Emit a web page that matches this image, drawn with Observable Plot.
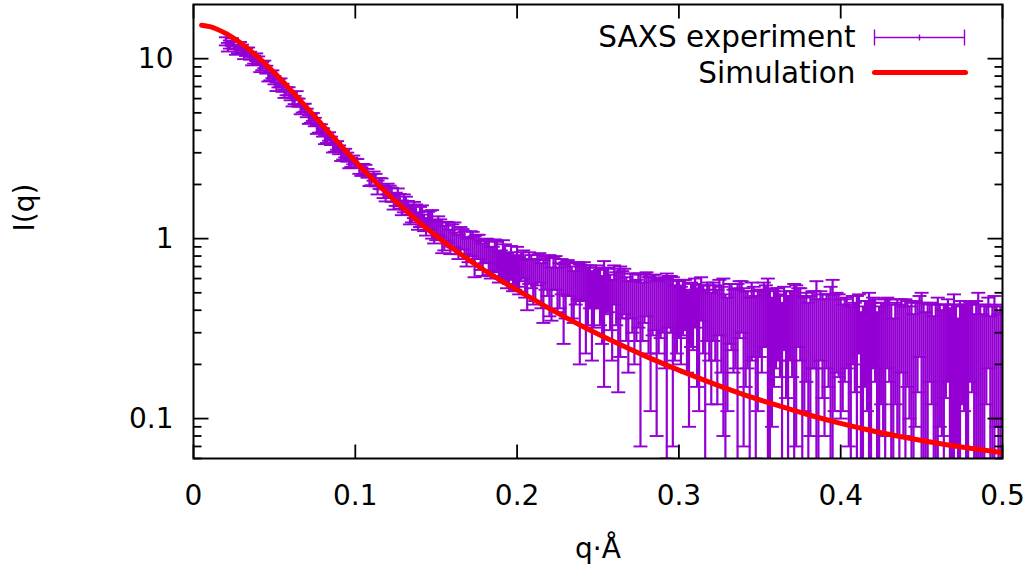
<!DOCTYPE html>
<html><head><meta charset="utf-8">
<script src="https://cdn.jsdelivr.net/npm/d3@7"></script>
<script src="https://cdn.jsdelivr.net/npm/@observablehq/plot@0.6"></script>
<style>
html,body{margin:0;padding:0;background:#fff;}
#chart{width:1032px;height:567px;}
</style>
</head><body><div id="chart"></div>
<script>
// ---- Experimental SAXS data, grid 1: q, intensity, error ----
const qExp = [
0.02,0.0225,0.025,0.0275,0.03,0.0325,0.035,0.0375,0.04,0.0425,
0.045,0.0475,0.05,0.0525,0.055,0.0575,0.06,0.0625,0.065,0.0675,
0.07,0.0725,0.075,0.0775,0.08,0.0825,0.085,0.0875,0.09,0.0925,
0.095,0.0975,0.1,
0.1025,0.105,0.1075,0.11,0.1125,0.115,0.1175,0.12,0.1225,0.125,
0.1275,0.13,0.1325,0.135,0.1375,0.14,0.1425,0.145,0.1475,0.15,
0.1525,0.155,0.1575,0.16,0.1625,0.165,0.1675,0.17,0.1725,0.175,
0.1775,0.18,0.1825,0.185,0.1875,0.19,0.1925,0.195,0.1975,0.2,
0.2025,0.205,0.2075,0.21,0.2125,0.215,0.2175,0.22,0.2225,0.225,
0.2275,0.23,0.2325,0.235,0.2375,0.24,0.2425,0.245,0.2475,0.25,
0.2525,0.255,0.2575,0.26,0.2625,0.265,0.2675,0.27,0.2725,0.275,
0.2775,0.28,0.2825,0.285,0.2875,0.29,0.2925,0.295,0.2975,0.3,
0.3025,0.305,0.3075,0.31,0.3125,0.315,0.3175,0.32,0.3225,0.325,
0.3275,0.33,0.3325,0.335,0.3375,0.34,0.3425,0.345,0.3475,0.35,
0.3525,0.355,0.3575,0.36,0.3625,0.365,0.3675,0.37,0.3725,0.375,
0.3775,0.38,0.3825,0.385,0.3875,0.39,0.3925,0.395,0.3975,0.4,
0.4025,0.405,0.4075,0.41,0.4125,0.415,0.4175,0.42,0.4225,0.425,
0.4275,0.43,0.4325,0.435,0.4375,0.44,0.4425,0.445,0.4475,0.45,
0.4525,0.455,0.4575,0.46,0.4625,0.465,0.4675,0.47,0.4725,0.475,
0.4775,0.48,0.4825,0.485,0.4875,0.49,0.4925,0.495,0.4975,0.5
];
const iExp = [
12.5,12.0,11.9,11.3,11.4,10.9,10.4,9.9,9.8,9.1,
8.7,8.0,7.6,7.3,6.9,6.6,6.2,5.9,5.7,5.3,
5.0,4.65,4.45,4.1,3.9,3.6,3.5,3.22,3.12,2.92,
2.84,2.66,2.62,
2.43,2.44,2.31,2.13,2.12,2.03,1.83,1.89,1.76,1.66,
1.62,1.58,1.49,1.38,1.41,1.33,1.23,1.26,1.22,1.12,
1.15,1.02,1.09,1.05,0.95,0.99,0.96,0.87,0.93,0.91,
0.82,0.86,0.80,0.76,0.81,0.73,0.77,0.70,0.66,0.72,
0.71,0.62,0.70,0.60,0.68,0.57,0.66,0.59,0.65,0.54,
0.63,0.55,0.61,0.50,0.60,0.58,0.47,0.56,0.49,0.55,
0.44,0.53,0.47,0.57,0.41,0.51,0.44,0.50,0.39,0.48,
0.42,0.51,0.36,0.47,0.41,0.45,0.35,0.46,0.38,0.43,
0.44,0.35,0.41,0.46,0.33,0.39,0.42,0.31,0.38,0.44,
0.34,0.29,0.40,0.36,0.43,0.30,0.35,0.39,0.27,0.37,
0.41,0.32,0.28,0.36,0.33,0.39,0.26,0.34,0.31,0.37,
0.29,0.24,0.35,0.31,0.36,0.27,0.32,0.30,0.34,0.28,
0.31,0.25,0.34,0.27,0.22,0.30,0.26,0.33,0.21,0.28,
0.24,0.31,0.19,0.27,0.32,0.23,0.26,0.20,0.29,0.25,
0.22,0.30,0.18,0.26,0.24,0.28,0.21,0.25,0.19,0.27,
0.23,0.30,0.20,0.24,0.22,0.27,0.18,0.25,0.21,0.24
];
const errExp = [
0.65,0.62,0.6,0.58,0.57,0.55,0.53,0.51,0.49,0.47,
0.44,0.42,0.40,0.38,0.36,0.34,0.33,0.31,0.30,0.28,
0.27,0.25,0.24,0.22,0.21,0.20,0.19,0.18,0.175,0.17,
0.165,0.16,0.155,
0.14,0.16,0.13,0.15,0.17,0.14,0.15,0.13,0.16,0.14,
0.15,0.18,0.13,0.15,0.14,0.17,0.13,0.15,0.22,0.14,
0.13,0.16,0.14,0.15,0.13,0.17,0.14,0.13,0.16,0.14,
0.15,0.13,0.17,0.14,0.15,0.13,0.16,0.14,0.15,0.18,
0.13,0.15,0.14,0.17,0.13,0.16,0.14,0.22,0.13,0.15,
0.14,0.19,0.13,0.16,0.14,0.13,0.24,0.15,0.17,0.14,
0.18,0.15,0.16,0.14,0.27,0.15,0.17,0.14,0.19,0.16,
0.15,0.14,0.25,0.16,0.18,0.15,0.29,0.16,0.17,0.15,
0.15,0.17,0.16,0.14,0.22,0.16,0.15,0.19,0.17,0.15,
0.26,0.18,0.16,0.17,0.15,0.23,0.16,0.18,0.21,0.15,
0.16,0.28,0.19,0.17,0.16,0.15,0.22,0.17,0.24,0.16,
0.18,0.20,0.16,0.27,0.15,0.19,0.17,0.29,0.16,0.18,
0.15,0.18,0.14,0.21,0.17,0.15,0.24,0.14,0.18,0.16,
0.22,0.15,0.17,0.19,0.14,0.23,0.16,0.18,0.15,0.25,
0.17,0.14,0.19,0.21,0.16,0.15,0.20,0.24,0.17,0.15,
0.22,0.14,0.18,0.26,0.16,0.15,0.19,0.23,0.17,0.15
];
// ---- Experimental SAXS data, grid 2 (intermediate q points) ----
const qExp2 = [
0.02125,0.02375,0.02625,0.02875,0.03125,0.03375,0.03625,0.03875,0.04125,0.04375,
0.04625,0.04875,0.05125,0.05375,0.05625,0.05875,0.06125,0.06375,0.06625,0.06875,
0.07125,0.07375,0.07625,0.07875,0.08125,0.08375,0.08625,0.08875,0.09125,0.09375,
0.09625,0.09875,
0.10125,0.10375,0.10625,0.10875,0.11125,0.11375,0.11625,0.11875,0.12125,0.12375,
0.12625,0.12875,0.13125,0.13375,0.13625,0.13875,0.14125,0.14375,0.14625,0.14875,
0.15125,0.15375,0.15625,0.15875,0.16125,0.16375,0.16625,0.16875,0.17125,0.17375,
0.17625,0.17875,0.18125,0.18375,0.18625,0.18875,0.19125,0.19375,0.19625,0.19875,
0.20125,0.20375,0.20625,0.20875,0.21125,0.21375,0.21625,0.21875,0.22125,0.22375,
0.22625,0.22875,0.23125,0.23375,0.23625,0.23875,0.24125,0.24375,0.24625,0.24875,
0.25125,0.25375,0.25625,0.25875,0.26125,0.26375,0.26625,0.26875,0.27125,0.27375,
0.27625,0.27875,0.28125,0.28375,0.28625,0.28875,0.29125,0.29375,0.29625,0.29875,
0.30125,0.30375,0.30625,0.30875,0.31125,0.31375,0.31625,0.31875,0.32125,0.32375,
0.32625,0.32875,0.33125,0.33375,0.33625,0.33875,0.34125,0.34375,0.34625,0.34875,
0.35125,0.35375,0.35625,0.35875,0.36125,0.36375,0.36625,0.36875,0.37125,0.37375,
0.37625,0.37875,0.38125,0.38375,0.38625,0.38875,0.39125,0.39375,0.39625,0.39875,
0.40125,0.40375,0.40625,0.40875,0.41125,0.41375,0.41625,0.41875,0.42125,0.42375,
0.42625,0.42875,0.43125,0.43375,0.43625,0.43875,0.44125,0.44375,0.44625,0.44875,
0.45125,0.45375,0.45625,0.45875,0.46125,0.46375,0.46625,0.46875,0.47125,0.47375,
0.47625,0.47875,0.48125,0.48375,0.48625,0.48875,0.49125,0.49375,0.49625,0.49875
];
const iExp2 = [
11.6,12.4,11.1,11.8,10.5,11.0,9.7,10.2,8.9,9.3,
7.9,8.2,7.0,7.4,6.4,6.6,5.75,6.3,5.2,5.35,
4.6,4.75,4.05,4.1,3.56,3.7,3.2,3.3,2.87,2.99,
2.62,2.74,
2.62,2.36,2.41,2.10,2.23,1.93,2.02,1.77,1.84,1.60,
1.71,1.49,1.58,1.36,1.45,1.26,1.35,1.17,1.28,1.10,
1.19,1.03,1.11,0.97,1.06,0.91,1.00,0.86,0.95,0.82,
0.91,0.78,0.87,0.75,0.82,0.71,0.79,0.68,0.75,0.66,
0.64,0.73,0.58,0.67,0.61,0.70,0.55,0.63,0.52,0.66,
0.57,0.49,0.62,0.53,0.58,0.46,0.60,0.51,0.43,0.56,
0.50,0.45,0.54,0.40,0.49,0.46,0.53,0.38,0.47,0.43,
0.35,0.49,0.42,0.46,0.33,0.44,0.40,0.47,0.34,0.41,
0.37,0.45,0.30,0.40,0.34,0.48,0.28,0.38,0.42,0.32,
0.36,0.26,0.41,0.35,0.30,0.44,0.33,0.25,0.38,0.31,
0.35,0.40,0.27,0.33,0.37,0.23,0.32,0.36,0.29,0.39,
0.25,0.33,0.28,0.35,0.22,0.31,0.34,0.26,0.30,0.33,
0.27,0.33,0.23,0.29,0.36,0.20,0.28,0.24,0.31,0.18,
0.26,0.33,0.22,0.28,0.17,0.25,0.30,0.21,0.27,0.35,
0.19,0.24,0.28,0.16,0.26,0.22,0.31,0.20,0.25,0.17,
0.27,0.23,0.29,0.19,0.24,0.21,0.33,0.18,0.26,0.22
];
const errExp2 = [
0.64,0.61,0.59,0.58,0.56,0.54,0.52,0.50,0.48,0.45,
0.43,0.41,0.39,0.37,0.35,0.34,0.32,0.30,0.29,0.27,
0.26,0.24,0.23,0.22,0.21,0.20,0.19,0.18,0.17,0.165,
0.16,0.155,
0.15,0.13,0.16,0.14,0.13,0.17,0.14,0.16,0.13,0.15,
0.19,0.14,0.13,0.16,0.15,0.14,0.18,0.13,0.15,0.16,
0.14,0.20,0.13,0.15,0.17,0.14,0.13,0.16,0.15,0.21,
0.14,0.16,0.13,0.15,0.17,0.14,0.19,0.15,0.16,0.14,
0.15,0.13,0.18,0.14,0.16,0.13,0.21,0.15,0.17,0.14,
0.16,0.23,0.14,0.17,0.15,0.26,0.14,0.18,0.22,0.15,
0.17,0.30,0.15,0.19,0.16,0.24,0.15,0.20,0.17,0.16,
0.28,0.15,0.19,0.17,0.25,0.16,0.21,0.15,0.27,0.18,
0.17,0.14,0.21,0.16,0.19,0.13,0.24,0.17,0.15,0.20,
0.18,0.23,0.15,0.17,0.26,0.14,0.18,0.22,0.16,0.20,
0.17,0.15,0.25,0.18,0.16,0.21,0.19,0.15,0.27,0.14,
0.23,0.17,0.20,0.16,0.24,0.18,0.15,0.28,0.19,0.16,
0.16,0.14,0.19,0.15,0.13,0.22,0.17,0.20,0.15,0.24,
0.18,0.14,0.21,0.16,0.26,0.17,0.15,0.23,0.18,0.13,
0.25,0.19,0.16,0.27,0.17,0.21,0.15,0.23,0.18,0.28,
0.16,0.20,0.15,0.26,0.19,0.22,0.14,0.24,0.17,0.20
];
// ---- Simulation curve ----
const qSim = [0.005,0.01,0.02,0.03,0.04,0.05,0.06,0.07,0.08,0.09,0.10,0.11,0.12,0.13,0.14,0.15,0.16,0.17,0.18,0.19,0.20,0.22,0.24,0.26,0.28,0.30,0.32,0.34,0.36,0.38,0.40,0.42,0.44,0.46,0.48,0.50];
const iSim = [15.35,15.07,13.80,12.05,10.16,8.34,6.71,5.35,4.24,3.37,2.69,2.17,1.77,1.47,1.22,1.035,0.885,0.764,0.665,0.585,0.519,0.408,0.327,0.267,0.221,0.186,0.158,0.136,0.119,0.105,0.0940,0.0853,0.0785,0.0729,0.0684,0.0647];

// ---- Axes ----
const xTicks = [0, 0.1, 0.2, 0.3, 0.4, 0.5];
const yMajorTicks = [0.1, 1, 10];
const yMinorTicks = [0.06,0.07,0.08,0.09,0.2,0.3,0.4,0.5,0.6,0.7,0.8,0.9,2,3,4,5,6,7,8,9];
const xLabel = "q·Å";
const yLabel = "I(q)";
const seriesNames = ["SAXS experiment", "Simulation"];
const seriesColors = ["#9400d3", "#ff0000"];

const toRow = (q, I, e) => ({q, I, lo: I - e, hi: I + e});
const exp = [
  ...qExp.map((q, i) => toRow(q, iExp[i], errExp[i])),
  ...qExp2.map((q, i) => toRow(q, iExp2[i], errExp2[i]))
].sort((a, b) => a.q - b.q);
const sim = qSim.map((q, i) => ({q, I: iSim[i]}));

// custom path symbols (pixel-sized strokes)
function seg(pts) {
  return {draw(ctx) { for (const [x1, y1, x2, y2] of pts) { ctx.moveTo(x1, y1); ctx.lineTo(x2, y2); } }};
}
const capSym = seg([[-7, 0, 7, 0]]);
const tickL = (L) => seg([[0, 0, L, 0]]);
const tickR = (L) => seg([[0, 0, -L, 0]]);
const tickB = (L) => seg([[0, 0, 0, -L]]);
const tickT = (L) => seg([[0, 0, 0, L]]);
const legendErr = seg([[-45, 0, 45, 0], [-45, -8, -45, 8], [45, -8, 45, 8], [0, -3, 0, 3]]);
const legendLine = seg([[-45, 0, 46, 0]]);

const FONT = "'DejaVu Sans', 'Liberation Sans', sans-serif";
const tickStyle = {stroke: "black", fill: "none", strokeWidth: 1.8};

const chart = Plot.plot({
  width: 1032,
  height: 567,
  marginLeft: 193,
  marginRight: 30,
  marginTop: 4,
  marginBottom: 109,
  style: {fontFamily: FONT, fontSize: "28px", background: "white", color: "black"},
  x: {domain: [0, 0.5]},
  y: {type: "log", domain: [0.06, 20]},
  marks: [
    // error bars
    Plot.ruleX(exp, {x: "q", y1: d => Math.max(d.lo, 1e-3), y2: "hi", stroke: seriesColors[0], strokeWidth: 2.2, clip: true}),
    Plot.dot(exp, {x: "q", y: "hi", symbol: capSym, stroke: seriesColors[0], fill: "none", strokeWidth: 1.9, clip: true}),
    Plot.dot(exp.filter(d => d.lo > 0), {x: "q", y: "lo", symbol: capSym, stroke: seriesColors[0], fill: "none", strokeWidth: 1.9, clip: true}),
    // simulation
    Plot.line(sim, {x: "q", y: "I", stroke: seriesColors[1], strokeWidth: 5, curve: "monotone-x", strokeLinecap: "round", clip: true}),
    // frame
    Plot.frame({stroke: "black", strokeWidth: 2}),
    // ticks (inward, mirrored)
    Plot.dot(yMajorTicks, {x: () => 0, y: d => d, symbol: tickL(15), ...tickStyle}),
    Plot.dot(yMajorTicks, {x: () => 0.5, y: d => d, symbol: tickR(15), ...tickStyle}),
    Plot.dot(yMinorTicks, {x: () => 0, y: d => d, symbol: tickL(8), ...tickStyle}),
    Plot.dot(yMinorTicks, {x: () => 0.5, y: d => d, symbol: tickR(8), ...tickStyle}),
    Plot.dot(xTicks, {x: d => d, y: () => 0.06, symbol: tickB(14), ...tickStyle}),
    Plot.dot(xTicks, {x: d => d, y: () => 20, symbol: tickT(14), ...tickStyle}),
    // tick labels
    Plot.axisX({ticks: xTicks, anchor: "bottom", tickSize: 0, tickPadding: 27, tickFormat: d => String(d), label: null, fontSize: 28}),
    Plot.axisY({ticks: yMajorTicks, anchor: "left", tickSize: 0, tickPadding: 20, tickFormat: d => String(d), label: null, fontSize: 28}),
    // axis titles
    Plot.text([yLabel], {text: d => d, frameAnchor: "left", dx: -168, rotate: -90, lineAnchor: "middle", fontSize: 28}),
    Plot.text([xLabel], {text: d => d, frameAnchor: "bottom", dy: 91, lineAnchor: "middle", fontSize: 28}),
    // legend
    Plot.text([seriesNames[0]], {text: d => d, frameAnchor: "top-right", dx: -147, dy: 33, textAnchor: "end", lineAnchor: "middle", fontSize: 29.5}),
    Plot.text([seriesNames[1]], {text: d => d, frameAnchor: "top-right", dx: -147, dy: 69, textAnchor: "end", lineAnchor: "middle", fontSize: 29.5}),
    Plot.dot([seriesNames[0]], {frameAnchor: "top-right", dx: -83, dy: 33, symbol: legendErr, stroke: seriesColors[0], fill: "none", strokeWidth: 1.4}),
    Plot.dot([seriesNames[1]], {frameAnchor: "top-right", dx: -83, dy: 68, symbol: legendLine, stroke: seriesColors[1], fill: "none", strokeWidth: 5, strokeLinecap: "round"})
  ]
});
document.getElementById("chart").appendChild(chart);
</script>
</body></html>
